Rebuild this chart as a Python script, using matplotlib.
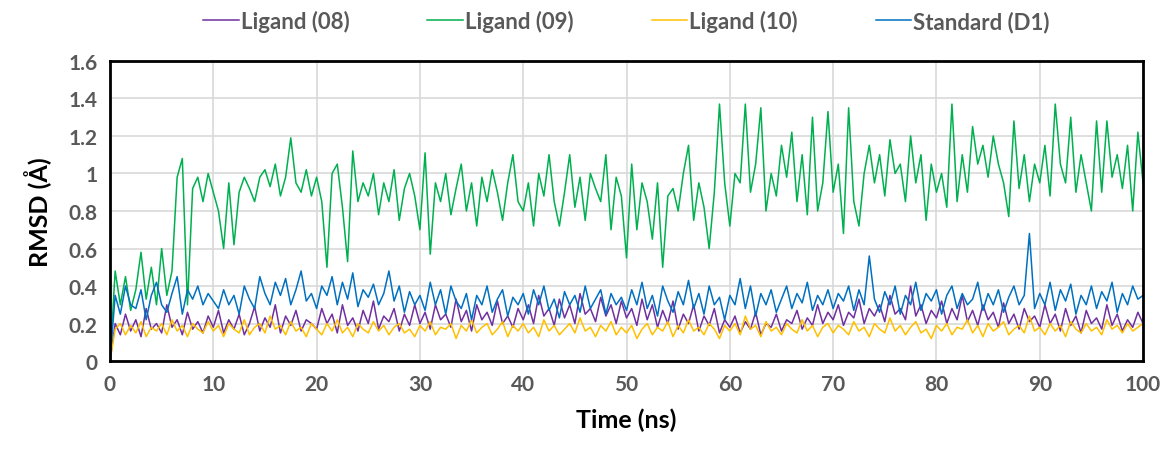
import numpy as np
import matplotlib
matplotlib.use("Agg")
import matplotlib.pyplot as plt

plt.rcParams['font.family'] = ['Lato', 'DejaVu Sans']

# tempo em ns (amostrado a cada 0.5 ns)
tempo = np.arange(0, 100.5, 0.5)

lig08 = [0.0, 0.2, 0.14, 0.25, 0.16, 0.22, 0.13, 0.28, 0.17, 0.2, 0.15, 0.3, 0.18, 0.22, 0.14, 0.26, 0.17, 0.21, 0.15, 0.24,
         0.18, 0.27, 0.15, 0.22, 0.17, 0.25, 0.14, 0.2, 0.29, 0.16, 0.23, 0.18, 0.3, 0.15, 0.24, 0.19, 0.27, 0.16, 0.22, 0.2,
         0.17, 0.28, 0.2, 0.25, 0.15, 0.3, 0.19, 0.23, 0.16, 0.27, 0.2, 0.32, 0.17, 0.24, 0.21, 0.28, 0.16, 0.25, 0.19, 0.3,
         0.2, 0.26, 0.17, 0.3, 0.22, 0.25, 0.18, 0.33, 0.21, 0.27, 0.16, 0.3, 0.22, 0.26, 0.19, 0.32, 0.2, 0.24, 0.18, 0.28,
         0.22, 0.3, 0.2, 0.35, 0.24, 0.28, 0.19, 0.33, 0.23, 0.3, 0.2, 0.36, 0.25, 0.28, 0.21, 0.34, 0.24, 0.3, 0.2, 0.32,
         0.23, 0.28, 0.19, 0.33, 0.22, 0.3, 0.18, 0.27, 0.2, 0.32, 0.17, 0.25, 0.2, 0.3, 0.16, 0.24, 0.19, 0.28, 0.15, 0.22,
         0.18, 0.24, 0.15, 0.21, 0.17, 0.26, 0.14, 0.2, 0.18, 0.25, 0.16, 0.22, 0.2, 0.27, 0.17, 0.23, 0.19, 0.3, 0.2, 0.26,
         0.22, 0.3, 0.19, 0.26, 0.23, 0.33, 0.2, 0.28, 0.24, 0.3, 0.21, 0.35, 0.25, 0.28, 0.22, 0.4, 0.24, 0.3, 0.2, 0.27,
         0.23, 0.32, 0.2, 0.28, 0.22, 0.35, 0.21, 0.27, 0.19, 0.3, 0.22, 0.26, 0.18, 0.31, 0.2, 0.25, 0.17, 0.28, 0.21, 0.24,
         0.18, 0.3, 0.2, 0.25, 0.16, 0.28, 0.19, 0.24, 0.15, 0.27, 0.2, 0.23, 0.17, 0.3, 0.19, 0.25, 0.16, 0.22, 0.18, 0.26, 0.2]

lig09 = [0.0, 0.48, 0.3, 0.45, 0.27, 0.38, 0.58, 0.33, 0.5, 0.3, 0.6, 0.35, 0.48, 0.98, 1.08, 0.3, 0.92, 0.98, 0.85, 1.0,
         0.9, 0.8, 0.6, 0.95, 0.62, 0.9, 0.98, 0.92, 0.85, 0.98, 1.02, 0.93, 1.05, 0.88, 0.98, 1.19, 0.95, 0.9, 1.02, 0.88,
         0.98, 0.85, 0.5, 1.0, 1.05, 0.82, 0.53, 1.12, 0.85, 0.95, 0.88, 1.0, 0.78, 0.95, 0.85, 1.02, 0.75, 0.92, 1.0, 0.88,
         0.7, 1.11, 0.57, 0.95, 0.85, 1.0, 0.78, 0.92, 1.05, 0.8, 0.95, 0.72, 0.98, 0.85, 1.02, 0.9, 0.75, 0.95, 1.1, 0.85,
         0.8, 0.95, 0.72, 1.0, 0.88, 1.1, 0.85, 0.72, 0.9, 1.1, 0.82, 0.98, 0.75, 1.0, 0.92, 0.85, 1.1, 0.7, 0.98, 0.88,
         0.55, 1.05, 0.7, 0.95, 0.85, 0.65, 0.95, 0.5, 0.88, 0.92, 0.8, 1.0, 1.15, 0.75, 0.95, 0.82, 0.6, 0.9, 1.37, 0.95,
         0.72, 1.0, 0.95, 1.37, 0.9, 1.05, 1.35, 0.8, 1.0, 0.88, 1.15, 0.98, 1.22, 0.85, 1.1, 0.78, 1.3, 0.8, 0.95, 1.33,
         0.9, 1.05, 0.68, 1.35, 0.85, 0.72, 1.0, 1.15, 0.95, 1.1, 0.88, 1.18, 1.0, 1.05, 0.85, 1.2, 0.95, 1.1, 0.75, 1.05,
         0.9, 1.0, 0.82, 1.37, 0.85, 1.1, 0.9, 1.25, 1.05, 1.15, 0.98, 1.2, 1.05, 0.95, 0.77, 1.28, 0.92, 1.1, 0.85, 1.05,
         0.95, 1.15, 0.88, 1.37, 1.05, 0.95, 1.3, 0.9, 1.1, 0.95, 0.8, 1.28, 0.9, 1.28, 0.98, 1.1, 0.92, 1.15, 0.8, 1.22, 0.95]

lig10 = [0.0, 0.17, 0.2, 0.14, 0.19, 0.15, 0.21, 0.13, 0.18, 0.16, 0.2, 0.14, 0.22, 0.16, 0.19, 0.13, 0.2, 0.17, 0.15, 0.21,
         0.16, 0.19, 0.13, 0.2, 0.17, 0.15, 0.22, 0.14, 0.18, 0.2, 0.15, 0.24, 0.17, 0.19, 0.14, 0.21, 0.16, 0.18, 0.13, 0.2,
         0.17, 0.14, 0.2, 0.16, 0.22, 0.15, 0.18, 0.13, 0.2, 0.17, 0.15, 0.21, 0.16, 0.19, 0.14, 0.18, 0.2, 0.15, 0.17, 0.13,
         0.19, 0.16, 0.21, 0.14, 0.18, 0.17, 0.2, 0.12, 0.19, 0.16, 0.22, 0.15, 0.18, 0.2, 0.14, 0.17, 0.21, 0.13, 0.19, 0.16,
         0.2, 0.15, 0.18, 0.13, 0.22, 0.16, 0.19, 0.14, 0.17, 0.2, 0.15, 0.23, 0.16, 0.18, 0.13, 0.19, 0.16, 0.21, 0.14, 0.18,
         0.15, 0.19, 0.12, 0.17, 0.2, 0.14, 0.18, 0.16, 0.21, 0.13, 0.19, 0.15, 0.22, 0.16, 0.18, 0.14, 0.2, 0.17, 0.12, 0.19,
         0.16, 0.2, 0.14, 0.24, 0.17, 0.19, 0.13, 0.21, 0.16, 0.18, 0.14, 0.2, 0.17, 0.15, 0.22, 0.16, 0.19, 0.13, 0.18, 0.2,
         0.15, 0.19, 0.17, 0.14, 0.21, 0.16, 0.18, 0.13, 0.2, 0.17, 0.15, 0.23, 0.16, 0.19, 0.14, 0.18, 0.21, 0.15, 0.17, 0.12,
         0.19, 0.16, 0.2, 0.14, 0.18, 0.17, 0.22, 0.15, 0.19, 0.13, 0.2, 0.16, 0.18, 0.21, 0.14, 0.17, 0.19, 0.15, 0.24, 0.16,
         0.18, 0.14, 0.2, 0.16, 0.19, 0.13, 0.21, 0.17, 0.15, 0.2, 0.16, 0.18, 0.14, 0.22, 0.17, 0.19, 0.15, 0.2, 0.16, 0.18, 0.2]

padrao_d1 = [0.0, 0.35, 0.25, 0.4, 0.3, 0.28, 0.38, 0.22, 0.35, 0.42, 0.3, 0.26, 0.36, 0.45, 0.25, 0.38, 0.33, 0.4, 0.3, 0.36,
             0.32, 0.28, 0.38, 0.3, 0.35, 0.25, 0.4, 0.33, 0.28, 0.45, 0.36, 0.3, 0.42, 0.35, 0.44, 0.3, 0.38, 0.48, 0.32, 0.36,
             0.28, 0.4, 0.35, 0.45, 0.3, 0.42, 0.33, 0.47, 0.29, 0.38, 0.34, 0.41, 0.3, 0.36, 0.48, 0.32, 0.4, 0.26, 0.37, 0.3,
             0.35, 0.27, 0.42, 0.3, 0.38, 0.25, 0.4, 0.32, 0.28, 0.36, 0.22, 0.35, 0.3, 0.4, 0.26, 0.33, 0.38, 0.24, 0.34, 0.3,
             0.36, 0.25, 0.38, 0.3, 0.4, 0.27, 0.33, 0.23, 0.37, 0.3, 0.35, 0.26, 0.4, 0.28, 0.33, 0.38, 0.25, 0.36, 0.3, 0.34,
             0.27, 0.38, 0.3, 0.42, 0.28, 0.35, 0.24, 0.4, 0.32, 0.26, 0.37, 0.3, 0.43, 0.28, 0.36, 0.25, 0.4, 0.3, 0.34, 0.22,
             0.35, 0.3, 0.44, 0.28, 0.4, 0.24, 0.36, 0.3, 0.38, 0.26, 0.33, 0.4, 0.28, 0.36, 0.31, 0.42, 0.27, 0.35, 0.3, 0.38,
             0.28, 0.36, 0.32, 0.4, 0.27, 0.38, 0.3, 0.56, 0.33, 0.26, 0.37, 0.3, 0.4, 0.25, 0.35, 0.3, 0.42, 0.27, 0.36, 0.32,
             0.38, 0.25, 0.35, 0.4, 0.28, 0.36, 0.3, 0.33, 0.42, 0.27, 0.36, 0.3, 0.38, 0.26, 0.34, 0.4, 0.3, 0.35, 0.68, 0.28,
             0.36, 0.3, 0.42, 0.27, 0.38, 0.32, 0.41, 0.25, 0.35, 0.3, 0.4, 0.28, 0.37, 0.32, 0.42, 0.26, 0.36, 0.3, 0.4, 0.33, 0.35]

nomes = ['Ligand (08)', 'Ligand (09)', 'Ligand (10)', 'Standard (D1)']
cores = ['#7030A0', '#00B050', '#FFC000', '#0070C0']
cinza = '#595959'

fig = plt.figure(figsize=(11.64, 4.52), dpi=100)
ax = fig.add_axes([0.0945, 0.199, 0.8875, 0.664])

for serie, nome, cor in zip([lig08, lig09, lig10, padrao_d1], nomes, cores):
    ax.plot(tempo, serie, color=cor, lw=1.1, label=nome)

ax.set_xlim(0, 100)
ax.set_ylim(0, 1.6)
ax.set_xticks(range(0, 101, 10))
ax.set_yticks(np.arange(0, 1.61, 0.2))
ax.set_yticklabels(['0', '0.2', '0.4', '0.6', '0.8', '1', '1.2', '1.4', '1.6'])
ax.grid(True, color='#D9D9D9', lw=1.2)
ax.set_axisbelow(True)
for s in ax.spines.values():
    s.set_linewidth(2)
    s.set_color('black')
ax.tick_params(length=0, pad=9, labelsize=15, labelcolor=cinza)
for t in ax.get_xticklabels() + ax.get_yticklabels():
    t.set_fontweight('bold')

ax.set_xlabel('Time (ns)', fontsize=18, fontweight='bold', color='black', labelpad=10)
ax.set_ylabel('RMSD (Å)', fontsize=18, fontweight='bold', color='black', labelpad=12)

leg = ax.legend(loc='lower center', bbox_to_anchor=(0.5, 1.03), ncol=4, frameon=False,
                handlelength=1.6, handletextpad=0.1, columnspacing=3.5,
                prop={'size': 16, 'weight': 'bold'})
for t in leg.get_texts():
    t.set_color(cinza)

fig.savefig('out.png', dpi=100)
